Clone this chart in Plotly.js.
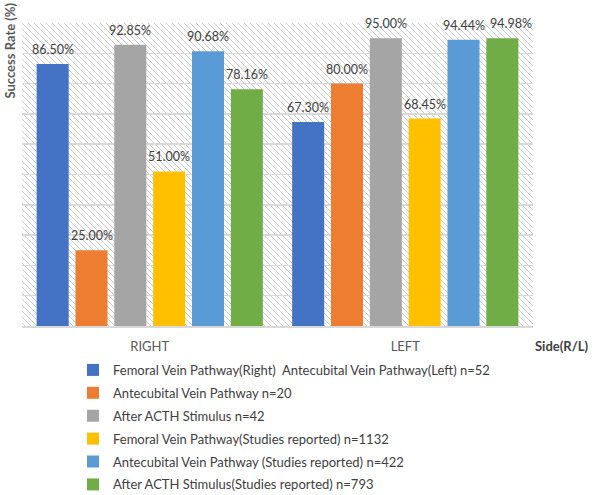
<!DOCTYPE html>
<html>
<head>
<meta charset="utf-8">
<script src="https://cdn.plot.ly/plotly-3.0.1.min.js"></script>
<style>html,body{margin:0;padding:0;background:#fff;}#chart{width:602px;height:495px;}</style>
</head>
<body>
<div id="chart"></div>
<script>
const categories = ["RIGHT", "LEFT"];
const seriesNames = [
  "Femoral Vein Pathway(Right)\u00a0\u00a0Antecubital Vein Pathway(Left) n=52",
  "Antecubital Vein Pathway n=20",
  "After ACTH Stimulus n=42",
  "Femoral Vein Pathway(Studies reported) n=1132",
  "Antecubital Vein Pathway (Studies reported) n=422",
  "After ACTH Stimulus(Studies reported) n=793"
];
const femoralOrSide = [86.50, 67.30];
const antecubital = [25.00, 80.00];
const afterACTH = [92.85, 95.00];
const femoralStudies = [51.00, 68.45];
const antecubitalStudies = [90.68, 94.44];
const acthStudies = [78.16, 94.98];
const seriesValues = [femoralOrSide, antecubital, afterACTH, femoralStudies, antecubitalStudies, acthStudies];
const colors = ["#4472C4", "#ED7D31", "#A5A5A5", "#FFC000", "#5B9BD5", "#70AD47"];

const FONT = "Lato, 'Open Sans', sans-serif";
const BARGAP = 0.088;
const nSeries = seriesValues.length;

const traces = seriesValues.map((vals, i) => ({
  type: "bar",
  x: categories,
  y: vals,
  name: seriesNames[i],
  legendgroup: "g" + i,
  marker: {color: colors[i], line: {width: 0}},
  hoverinfo: "none"
}));

// data labels: placed at each bar's slot on the category axis (same rule Plotly uses
// for grouped bars); a label that would collide with its left neighbour is nudged right.
const labelAnnotations = [];
seriesValues.forEach((vals, i) => {
  vals.forEach((v, j) => {
    const slot = (i - (nSeries - 1) / 2) * (1 - BARGAP) / nSeries;
    const collide = i > 0 && Math.abs(v - seriesValues[i - 1][j]) < 3;
    labelAnnotations.push({
      xref: "x", yref: "y",
      x: j + slot, y: v,
      text: v.toFixed(2) + "%",
      showarrow: false,
      xanchor: "center", yanchor: "bottom",
      xshift: collide ? 9 : 0,
      yshift: 6,
      borderpad: 0,
      font: {family: FONT, size: 12.5, color: "#404040"}
    });
  });
});

const hatchSvg = '<svg xmlns="http://www.w3.org/2000/svg" width="511" height="303">' +
  '<defs><pattern id="h" width="6" height="6" patternUnits="userSpaceOnUse">' +
  '<path d="M-1,-1 L7,7 M-1,5 L1,7 M5,-1 L7,1" stroke="#cccccc" stroke-width="1"/>' +
  '</pattern></defs><rect width="100%" height="100%" fill="#fff"/>' +
  '<rect width="100%" height="100%" fill="url(#h)"/></svg>';

const layout = {
  width: 602,
  height: 495,
  margin: {l: 22, r: 69, t: 23, b: 169, autoexpand: false},
  paper_bgcolor: "#ffffff",
  plot_bgcolor: "rgba(0,0,0,0)",
  font: {family: FONT, color: "#404040"},
  barmode: "group",
  bargap: BARGAP,
  bargroupgap: 0.175,
  showlegend: true,
  legend: {
    x: 0.0998, xanchor: "left",
    y: -0.0956, yanchor: "top",
    font: {family: FONT, size: 13, color: "#404040"},
    tracegroupgap: 3,
    itemwidth: 30,
    bgcolor: "rgba(0,0,0,0)"
  },
  xaxis: {
    type: "category",
    range: [-0.5, 1.5],
    showgrid: false,
    showline: true,
    linecolor: "#d9d9d9",
    linewidth: 1.5,
    ticks: "",
    tickfont: {family: FONT, size: 13, color: "#595959"},
    ticklabelstandoff: 8,
    fixedrange: true
  },
  yaxis: {
    range: [0, 100],
    dtick: 10,
    showgrid: true,
    gridcolor: "#d9d9d9",
    gridwidth: 1.5,
    zeroline: false,
    showticklabels: false,
    ticks: "",
    fixedrange: true
  },
  images: [{
    source: "data:image/svg+xml;charset=utf-8," + encodeURIComponent(hatchSvg),
    xref: "paper", yref: "paper",
    x: 0, y: 1, sizex: 1, sizey: 1,
    xanchor: "left", yanchor: "top",
    sizing: "stretch",
    layer: "below"
  }],
  annotations: labelAnnotations.concat([
    {
      text: "<b>Success Rate (%)</b>",
      xref: "paper", yref: "paper",
      x: -0.023, y: 1.075,
      xanchor: "center", yanchor: "top",
      textangle: -90,
      showarrow: false,
      font: {family: FONT, size: 13, color: "#595959"}
    },
    {
      text: "<b>Side(R/L)</b>",
      xref: "paper", yref: "paper",
      x: 1.0, y: -0.065,
      xanchor: "left", yanchor: "middle",
      showarrow: false,
      font: {family: FONT, size: 13, color: "#404040"}
    }
  ])
};

Plotly.newPlot("chart", traces, layout, {displayModeBar: false, staticPlot: true});
</script>
</body>
</html>
